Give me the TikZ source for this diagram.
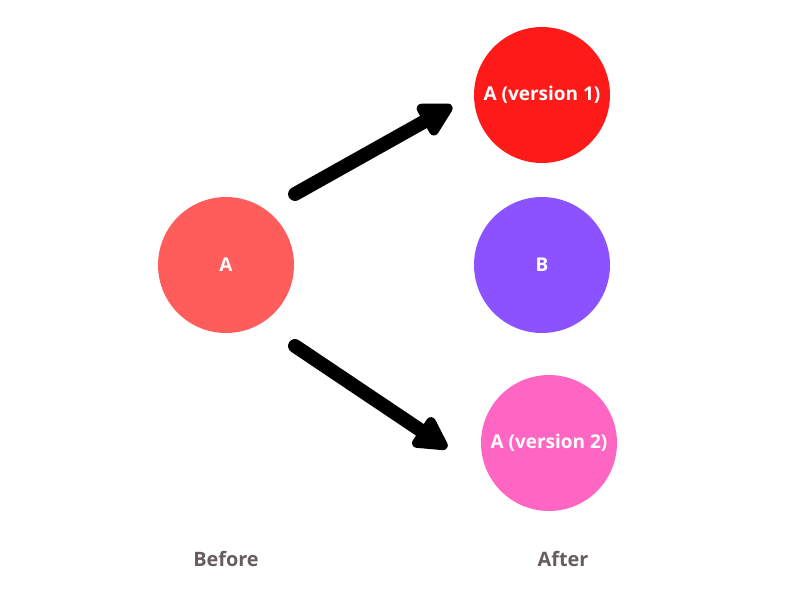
\documentclass[tikz,border=0pt]{standalone}
\usepackage{fontspec}
\setmainfont{Open Sans}
\usepackage{xcolor}
\usetikzlibrary{arrows.meta}

\definecolor{colA}{HTML}{FF5C5C}
\definecolor{colAone}{HTML}{FF1A1A}
\definecolor{colB}{HTML}{8C52FF}
\definecolor{colAtwo}{HTML}{FF66C4}
\definecolor{labgray}{HTML}{655D60}

\begin{document}
\begin{tikzpicture}[
  x=0.02cm, y=-0.02cm,
  blob/.style={circle, minimum size=2.72cm, inner sep=0pt, text=white,
    font=\fontsize{10.8}{13}\selectfont\bfseries},
  lab/.style={text=labgray, font=\fontsize{11.3}{14}\selectfont\bfseries},
  arr/.style={line width=7.9pt, line cap=round,
    -{Triangle[length=22pt, width=22pt, round]}},
]
  \useasboundingbox (0,0) rectangle (805,596);

  % before
  \node[blob, fill=colA] (a) at (226,265) {A};

  % after
  \node[blob, fill=colAone] (aone) at (542,95) {A (version 1)};
  \node[blob, fill=colB] (b) at (542,265) {B};
  \node[blob, fill=colAtwo] (atwo) at (549,443) {A (version 2)};

  \node[lab] (before) at (226,559) {Before};
  \node[lab] (after) at (563,559) {After};

  % arrow ends
  \coordinate (upstart) at (295,194);
  \coordinate (upend) at (452,106);
  \coordinate (downstart) at (295,346);
  \coordinate (downend) at (447,448);

  \draw[arr] (upstart) -- (upend);
  \draw[arr] (downstart) -- (downend);
\end{tikzpicture}
\end{document}
